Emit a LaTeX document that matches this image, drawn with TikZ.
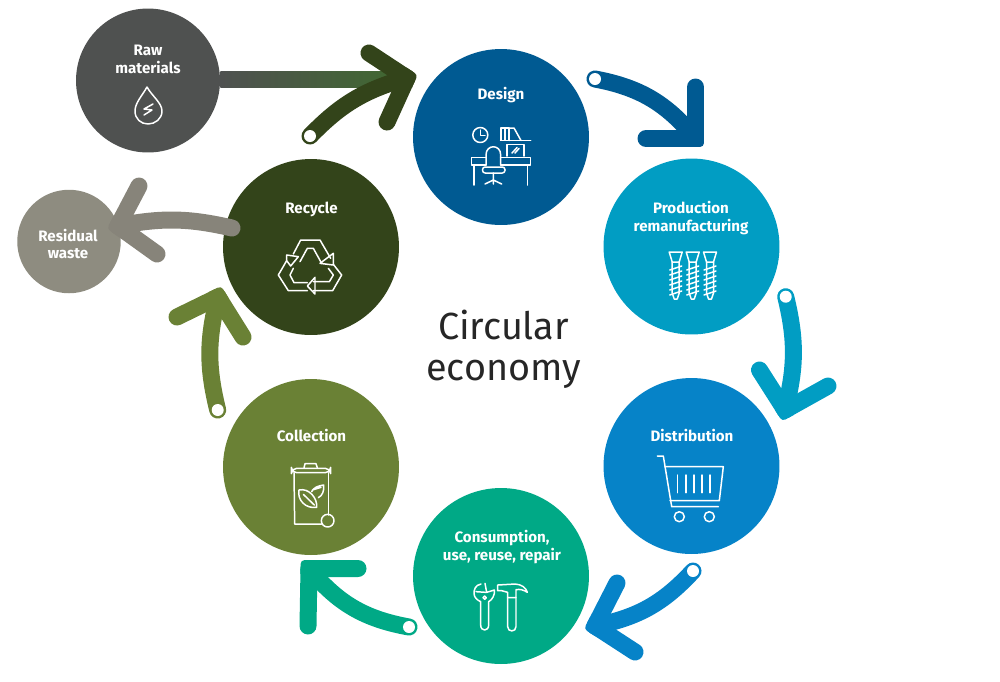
\documentclass[tikz,border=0pt]{standalone}
\usepackage{fontspec}
\usepackage{xcolor}
\usetikzlibrary{calc}
\setmainfont{Fira Sans}
\definecolor{rawgrey}{HTML}{4F5150}
\definecolor{rawgreen}{HTML}{3F6A2E}
\definecolor{designblue}{HTML}{005A92}
\definecolor{prodblue}{HTML}{019DC3}
\definecolor{distblue}{HTML}{0683C8}
\definecolor{consgreen}{HTML}{00A986}
\definecolor{collgreen}{HTML}{6A8135}
\definecolor{recygreen}{HTML}{33441A}
\definecolor{wastegrey}{HTML}{8E8C80}
\definecolor{wastearrow}{HTML}{87847A}
\tikzset{
  stage/.style={circle, fill=#1, minimum size=3.52cm, inner sep=0pt},
  stagetext/.style={text=white, align=center, font=\fontsize{8.6}{10.2}\selectfont\bfseries},
  titletext/.style={text=black!85, anchor=base, font=\fontsize{21.5}{24}\selectfont},
  flow/.style={line width=0.34cm, line cap=round, line join=round},
  hole/.style={circle, fill=white, minimum size=0.24cm, inner sep=0pt},
  icon/.style={draw=white, line width=0.85pt, line join=round, line cap=round}
}
% arrow head: two arms and a tighter corner at the tip
\newcommand{\flowhead}[4]{
  \coordinate (ua) at ($(#3)!0.2cm!(#2)$);
  \coordinate (ub) at ($(#3)!0.2cm!(#4)$);
  \coordinate (tp) at ($1.9*(#3)-0.45*(ua)-0.45*(ub)$);
  \draw [flow, #1] (#2) -- (#3) -- (#4);
  \draw [#1, line width=0.16cm, line join=round] ($(tp)+(ua)-(#3)$) -- (tp) -- ($(tp)+(ub)-(#3)$);
}
\begin{document}
\begin{tikzpicture}[x=0.02cm,y=-0.02cm]
\useasboundingbox (0,0) rectangle (1000,681);

% stages
\node [stage=designblue] (design) at (501,137) {};
\node [stage=prodblue] (production) at (691.5,246.5) {};
\node [stage=distblue] (distribution) at (691.5,466) {};
\node [stage=consgreen] (consumption) at (501,576) {};
\node [stage=collgreen] (collection) at (311,467) {};
\node [stage=recygreen] (recycle) at (311,247) {};
\node [stage=rawgrey, minimum size=2.88cm] (rawmat) at (148,80.5) {};
\node [stage=wastegrey, minimum size=2.07cm] (waste) at (69,241.5) {};

% labels
\node [stagetext] (rawtext) at (148,59) {Raw\\materials};
\node [stagetext] (designtext) at (501,95.5) {Design};
\node [stagetext] (prodtext) at (691,218) {Production\\remanufacturing};
\node [stagetext] (disttext) at (692,435) {Distribution};
\node [stagetext] (constext) at (502,547) {Consumption,\\use, reuse, repair};
\node [stagetext] (colltext) at (311.5,435) {Collection};
\node [stagetext] (recytext) at (311.5,209) {Recycle};
\node [stagetext] (wastetext) at (68,244) {Residual\\waste};
\node [titletext] (title1) at (503.5,339) {Circular};
\node [titletext] (title2) at (503.5,380) {economy};

% raw materials shaft
\shade [left color=rawgrey, right color=rawgreen] (rawmat.east |- 0,71.5) rectangle (412,87.5);

% arrows round the cycle
\coordinate (h1) at (595,79);
\coordinate (t1) at (695.5,138.5);
\draw [flow, designblue] (h1) to[bend left=20] (t1);
\flowhead{designblue}{695.5,87}{t1}{646,138.5}
\node [hole] (hole1) at (h1) {};

\coordinate (h2) at (785.7,296.7);
\coordinate (t2) at (785,410);
\draw [flow, prodblue] (h2) to[bend left=14] (t2);
\flowhead{prodblue}{759.5,370}{t2}{828,386}
\node [hole] (hole2) at (h2) {};

\coordinate (h3) at (693,571);
\coordinate (t3) at (595,626);
\draw [flow, distblue] (h3) to[bend left=18] (t3);
\flowhead{distblue}{617,583}{t3}{635,652}
\node [hole] (hole3) at (h3) {};

\coordinate (h4) at (409,627);
\coordinate (t4) at (309,568.5);
\draw [flow, consgreen] (h4) to[bend left=20] (t4);
\flowhead{consgreen}{358,568.5}{t4}{308,626}
\node [hole] (hole4) at (h4) {};

\coordinate (h5) at (217.7,410);
\coordinate (t5) at (218,297);
\draw [flow, collgreen] (h5) to[bend left=14] (t5);
\flowhead{collgreen}{177,317}{t5}{243,337}
\node [hole] (hole5) at (h5) {};

\coordinate (h6) at (310,136);
\coordinate (t6) at (407,78);
\draw [flow, recygreen] (h6) to[bend left=15] (t6);
\flowhead{recygreen}{369,53}{t6}{387,122}
\node [hole] (hole6) at (h6) {};

% residual waste arrow
\coordinate (h7) at (232,228);
\coordinate (t7) at (118,226);
\draw [flow, wastearrow] (h7) to[bend right=12] (t7);
\flowhead{wastearrow}{139,186}{t7}{157,254}

% drop
\draw [icon] (147,87) .. controls (142,96) and (135,103) .. (135,111) .. controls (135,119) and (141,124) .. (148,124) .. controls (155,124) and (162,119) .. (162,111) .. controls (162,103) and (152,96) .. (147,87) -- cycle;
\draw [icon] (153,104) -- (144,109) -- (152,110) -- (144,115);

% desk
\draw [icon] (480.3,135) circle (7.5);
\draw [icon] (480.3,130) -- (480.3,135.5) -- (485,135.5);
\draw [icon] (501,128) rectangle (505,140.5);
\draw [icon] (505,128) rectangle (509,140.5);
\draw [icon] (509,140.5) -- (509,128) -- (514,128) -- (521,140.5);
\draw [icon] (500.5,140.7) -- (530.7,140.7);
\draw [icon] (507,156) -- (507,144.5) -- (524,144.5) -- (524,156);
\draw [icon] (512,153) -- (517,147.5) (515,153) -- (519,148.5);
\draw [icon] (486,157.5) -- (471.7,157.5) -- (471.7,165) -- (486,165);
\draw [icon] (500.7,157.5) -- (530.7,157.5) -- (530.7,165) -- (500.7,165);
\draw [icon] (474,165) -- (474,185);
\draw [icon] (527.3,165) -- (527.3,185);
\draw [icon] (486,165) -- (486,155) .. controls (486,144) and (500.7,144) .. (500.7,155) -- (500.7,165);
\draw [icon, rounded corners=1.5] (482.5,167) rectangle (505,173);
\draw [icon] (493.3,173) -- (493.3,180) (485,184) -- (493.3,180) -- (501.7,184) (493.3,180) -- (493.3,184);

% screws
\foreach \x in {675.7,692.7,710} {
  \draw [icon] (\x-6.5,252) -- (\x+6.5,252) -- (\x+3.5,262) -- (\x-3.5,262) -- cycle;
  \draw [icon] (\x-3.5,262) -- (\x-3.5,293) -- (\x-1.5,299) -- (\x+1.5,299) -- (\x+3.5,293) -- (\x+3.5,262);
  \foreach \y in {268,273,278,283,288,293}
    \draw [icon] (\x-6,\y+2) -- (\x+6,\y-2);
}

% cart
\draw [icon] (657.3,456) -- (663.3,456) -- (671.7,506.7) -- (718.3,506.7);
\draw [icon] (665,466.7) -- (723.3,466.7) -- (719.3,500.7) -- (670,500.7);
\foreach \x in {677.7,686,694,702,710}
  \draw [icon] (\x,475) -- (\x,492.7);
\draw [icon] (679.3,516.7) circle (5);
\draw [icon] (709.3,516.7) circle (5);

% wrench
\begin{scope}[shift={(465,575)},scale=0.3333]
\draw [icon] (48,27) .. controls (30,30) and (27,45) .. (27,55) .. controls (27,68) and (38,76) .. (47,80) -- (47,150) .. controls (47,170) and (71,170) .. (71,150) -- (71,80) .. controls (82,74) and (90,60) .. (88,45) -- (65,52) -- (60,25);
\draw [icon] (33,50) -- (63,52);
\draw [icon] (59,68) circle (5);
% hammer
\draw [icon] (128,68) -- (128,155) .. controls (128,172) and (153,172) .. (153,155) -- (153,68);
\draw [icon] (98,30) -- (150,27) .. controls (170,28) and (183,38) .. (187,52) .. controls (175,44) and (165,42) .. (153,44) -- (153,68) -- (128,68) -- (128,52) -- (110,47) -- (98,47) -- cycle;
\end{scope}

% bin
\begin{scope}[shift={(285,455)},scale=0.3333]
\draw [icon, rounded corners=3] (19,53) -- (19,40) -- (137,40) -- (137,53) -- cycle;
\draw [icon] (57,38) -- (60,26) -- (93,26) -- (97,38);
\draw [icon] (27,53) -- (29,207) -- (110,207);
\draw [icon] (131,53) -- (131,180);
\draw [icon] (128,197) circle (19);
\draw [icon] (42,105) .. controls (72,98) and (98,130) .. (95,157) .. controls (62,162) and (36,135) .. (42,105) -- cycle;
\draw [icon] (55,118) -- (88,150);
\draw [icon] (80,110) .. controls (85,98) and (100,92) .. (116,90) .. controls (118,108) and (112,122) .. (100,128) (82,105) -- (108,97);
\end{scope}

% recycling mark
\begin{scope}[shift={(270,230)},scale=0.3333]
\draw [icon] (70,72) -- (92,30) -- (150,30) -- (182,85);
\draw [icon] (90,95) -- (112,55) -- (130,55) -- (155,100);
\draw [icon] (190,70) -- (190,105) -- (150,100) -- cycle;
\draw [icon] (190,103) -- (215,135) -- (188,182) -- (130,182);
\draw [icon] (175,115) -- (190,135) -- (178,155) -- (130,155);
\draw [icon] (135,142) -- (112,168) -- (135,192) -- cycle;
\draw [icon] (112,182) -- (55,182) -- (25,135) -- (50,92);
\draw [icon] (112,158) -- (72,158) -- (60,135) -- (70,115);
\draw [icon] (50,75) -- (85,80) -- (62,108) -- (50,92) -- cycle;
\end{scope}
\end{tikzpicture}
\end{document}
